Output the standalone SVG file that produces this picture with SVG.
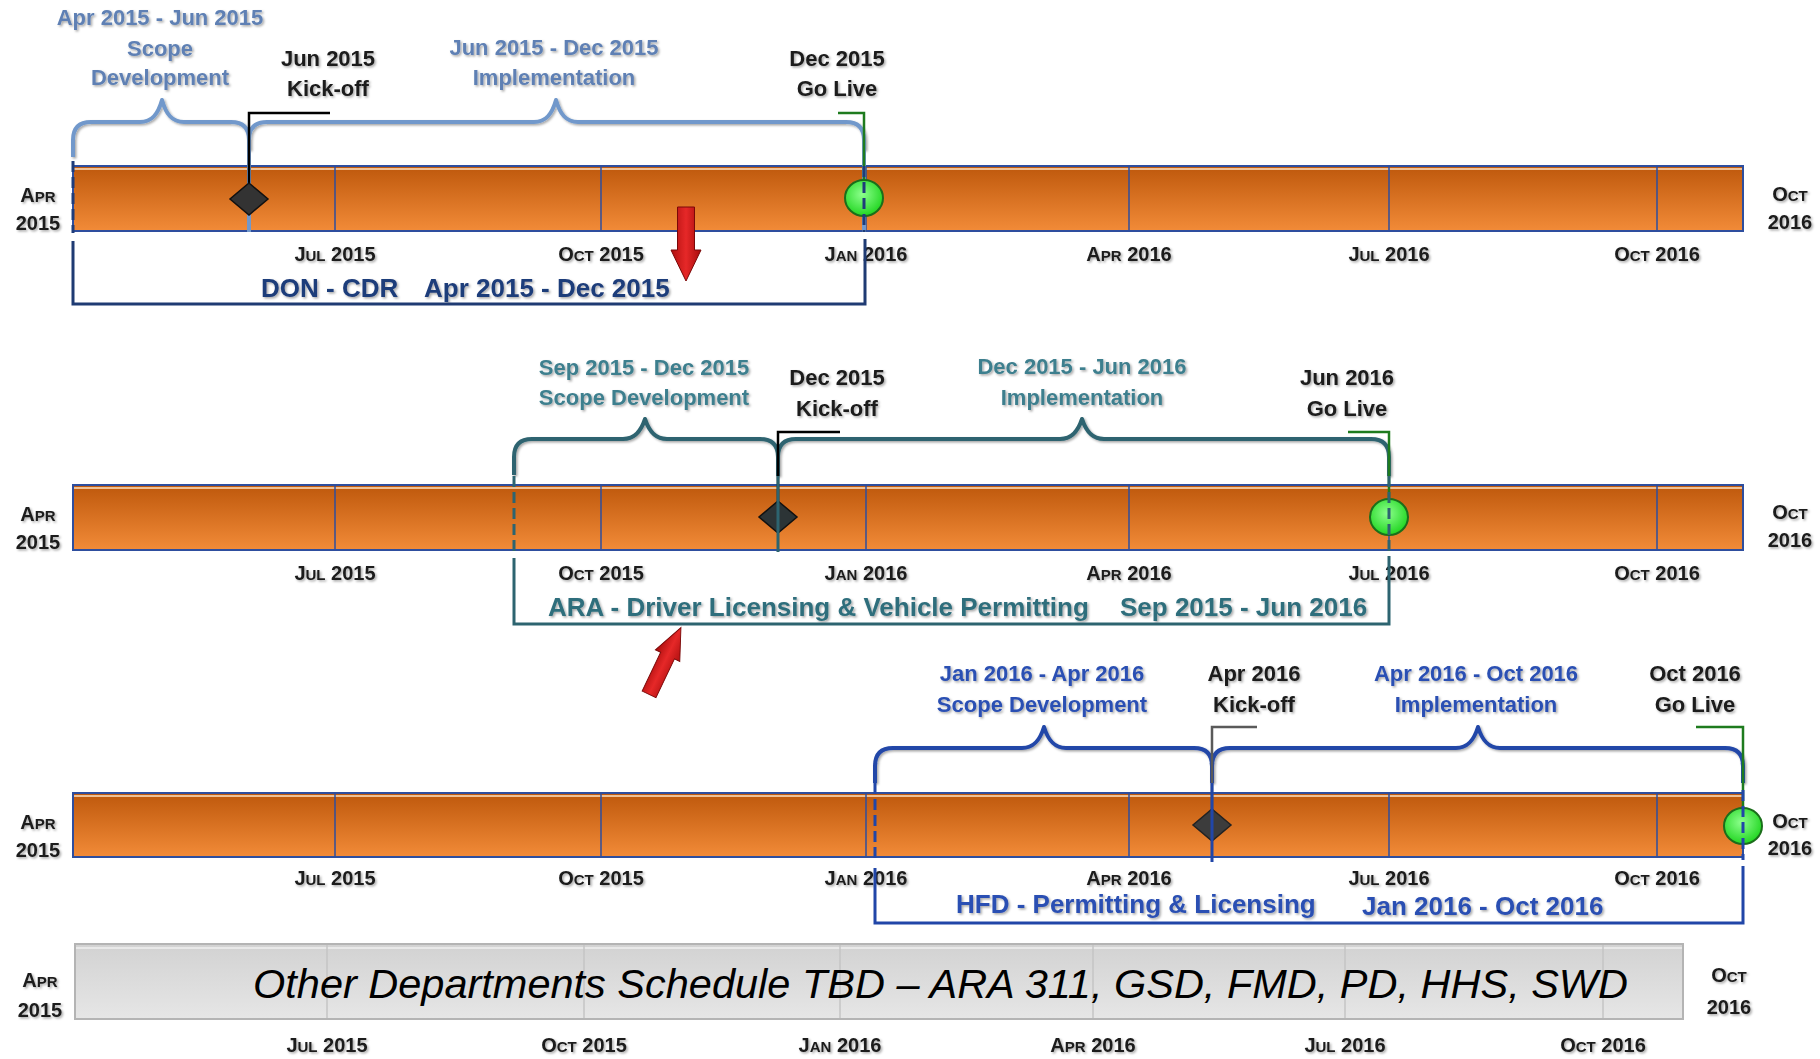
<svg xmlns="http://www.w3.org/2000/svg" width="1820" height="1059" viewBox="0 0 1820 1059">
<defs>
  <linearGradient id="orange" x1="0" y1="0" x2="0" y2="1">
    <stop offset="0" stop-color="#BE580C"/>
    <stop offset="1" stop-color="#F28B38"/>
  </linearGradient>
  <linearGradient id="gray" x1="0" y1="0" x2="0" y2="1">
    <stop offset="0" stop-color="#D2D2D2"/>
    <stop offset="1" stop-color="#E6E6E6"/>
  </linearGradient>
  <radialGradient id="green" cx="0.45" cy="0.4" r="0.6">
    <stop offset="0" stop-color="#8CFF8C"/>
    <stop offset="1" stop-color="#22D622"/>
  </radialGradient>
  <linearGradient id="red" x1="0" y1="0" x2="1" y2="0">
    <stop offset="0" stop-color="#A80C0C"/>
    <stop offset="0.5" stop-color="#E62828"/>
    <stop offset="1" stop-color="#B01010"/>
  </linearGradient>
  <filter id="sh" x="-10%" y="-20%" width="130%" height="160%">
    <feDropShadow dx="1.5" dy="1.5" stdDeviation="0.8" flood-color="#000" flood-opacity="0.35"/>
  </filter>
  <polygon id="diamond" points="0,-16 19,0 0,16 -19,0"/>
  <path id="arrow" d="M0,-37 L15,-6 L8.5,-6 L8.5,37 L-8.5,37 L-8.5,-6 L-15,-6 Z"/>
</defs>
<style>
  text { font-family: "Liberation Sans", Arial, sans-serif; font-weight: bold; }
  .t { font-size: 22px; text-anchor: middle; filter: url(#sh); }
  .blk { fill: #1A1A1A; }
  .ax { font-size: 20px; text-anchor: middle; fill: #1A1A1A; filter: url(#sh); }
  .sc { font-size: 15px; }
  .big { font-size: 26px; filter: url(#sh); }
  .c1 { fill: #5E80B4; }
  .c1b { fill: #1F3C7A; }
  .c2 { fill: #3E7F8E; }
  .c2b { fill: #2F6E7C; }
  .c3 { fill: #2A4FB3; }
  .bar { fill: url(#orange); stroke: #2E4E9E; stroke-width: 2; }
  .hl { stroke: #F8D2AC; stroke-width: 2; opacity: 0.85; }
  .div { stroke: #2E4E9E; stroke-width: 1.5; }
  .gbar { fill: url(#gray); stroke: #B4B4B4; stroke-width: 2; }
  .gdiv { stroke: #C4C4C4; stroke-width: 1.5; }
  .brace { fill: none; stroke-width: 4; stroke-linejoin: round; filter: url(#sh); }
  .ln { fill: none; stroke-width: 2.5; }
  .dash { fill: none; stroke-width: 3; stroke-dasharray: 11 5; }
  .brk { fill: none; stroke-width: 3; }
  .ms { fill: url(#green); stroke: #1B6E1B; stroke-width: 2; }
  .red { fill: url(#red); stroke: #7A0808; stroke-width: 1; }
</style>

<!-- ROW 1 : DON - CDR -->
<g id="row1-bar">
  <rect class="bar" x="73" y="166" width="1670" height="65"/>
  <line class="hl" x1="74" y1="169" x2="1742" y2="169"/>
  <line class="div" x1="335" y1="166" x2="335" y2="231"/>
  <line class="div" x1="601" y1="166" x2="601" y2="231"/>
  <line class="div" x1="866" y1="166" x2="866" y2="231"/>
  <line class="div" x1="1129" y1="166" x2="1129" y2="231"/>
  <line class="div" x1="1389" y1="166" x2="1389" y2="231"/>
  <line class="div" x1="1657" y1="166" x2="1657" y2="231"/>
</g>
<g id="row1-axis">
  <text class="ax" x="38" y="202">A<tspan class="sc">PR</tspan></text>
  <text class="ax" x="38" y="230">2015</text>
  <text class="ax" x="1790" y="201">O<tspan class="sc">CT</tspan></text>
  <text class="ax" x="1790" y="229">2016</text>
  <text class="ax" x="335" y="261">J<tspan class="sc">UL</tspan> 2015</text>
  <text class="ax" x="601" y="261">O<tspan class="sc">CT</tspan> 2015</text>
  <text class="ax" x="866" y="261">J<tspan class="sc">AN</tspan> 2016</text>
  <text class="ax" x="1129" y="261">A<tspan class="sc">PR</tspan> 2016</text>
  <text class="ax" x="1389" y="261">J<tspan class="sc">UL</tspan> 2016</text>
  <text class="ax" x="1657" y="261">O<tspan class="sc">CT</tspan> 2016</text>
</g>
<g id="row1-scope">
  <text class="t c1" x="160" y="25">Apr 2015 - Jun 2015</text>
  <text class="t c1" x="160" y="56">Scope</text>
  <text class="t c1" x="160" y="85">Development</text>
</g>
<g id="row1-kickoff">
  <text class="t blk" x="328" y="66">Jun 2015</text>
  <text class="t blk" x="328" y="96">Kick-off</text>
</g>
<g id="row1-impl">
  <text class="t c1" x="554" y="55">Jun 2015 - Dec 2015</text>
  <text class="t c1" x="554" y="85">Implementation</text>
</g>
<g id="row1-golive">
  <text class="t blk" x="837" y="66">Dec 2015</text>
  <text class="t blk" x="837" y="96">Go Live</text>
</g>
<g id="row1-title">
  <text class="big c1b" x="261" y="297">DON - CDR</text>
  <text class="big c1b" x="424" y="297">Apr 2015 - Dec 2015</text>
</g>

<!-- ROW 2 : ARA -->
<g id="row2-bar">
  <rect class="bar" x="73" y="485" width="1670" height="65"/>
  <line class="hl" x1="74" y1="488" x2="1742" y2="488"/>
  <line class="div" x1="335" y1="485" x2="335" y2="550"/>
  <line class="div" x1="601" y1="485" x2="601" y2="550"/>
  <line class="div" x1="866" y1="485" x2="866" y2="550"/>
  <line class="div" x1="1129" y1="485" x2="1129" y2="550"/>
  <line class="div" x1="1389" y1="485" x2="1389" y2="550"/>
  <line class="div" x1="1657" y1="485" x2="1657" y2="550"/>
</g>
<g id="row2-axis">
  <text class="ax" x="38" y="521">A<tspan class="sc">PR</tspan></text>
  <text class="ax" x="38" y="549">2015</text>
  <text class="ax" x="1790" y="519">O<tspan class="sc">CT</tspan></text>
  <text class="ax" x="1790" y="547">2016</text>
  <text class="ax" x="335" y="580">J<tspan class="sc">UL</tspan> 2015</text>
  <text class="ax" x="601" y="580">O<tspan class="sc">CT</tspan> 2015</text>
  <text class="ax" x="866" y="580">J<tspan class="sc">AN</tspan> 2016</text>
  <text class="ax" x="1129" y="580">A<tspan class="sc">PR</tspan> 2016</text>
  <text class="ax" x="1389" y="580">J<tspan class="sc">UL</tspan> 2016</text>
  <text class="ax" x="1657" y="580">O<tspan class="sc">CT</tspan> 2016</text>
</g>
<g id="row2-scope">
  <text class="t c2" x="644" y="375">Sep 2015 - Dec 2015</text>
  <text class="t c2" x="644" y="405">Scope Development</text>
</g>
<g id="row2-kickoff">
  <text class="t blk" x="837" y="385">Dec 2015</text>
  <text class="t blk" x="837" y="416">Kick-off</text>
</g>
<g id="row2-impl">
  <text class="t c2" x="1082" y="374">Dec 2015 - Jun 2016</text>
  <text class="t c2" x="1082" y="405">Implementation</text>
</g>
<g id="row2-golive">
  <text class="t blk" x="1347" y="385">Jun 2016</text>
  <text class="t blk" x="1347" y="416">Go Live</text>
</g>
<g id="row2-title">
  <text class="big c2b" x="548" y="616">ARA - Driver Licensing &amp; Vehicle Permitting</text>
  <text class="big c2b" x="1120" y="616">Sep 2015 - Jun 2016</text>
</g>

<!-- ROW 3 : HFD -->
<g id="row3-bar">
  <rect class="bar" x="73" y="793" width="1670" height="64"/>
  <line class="hl" x1="74" y1="796" x2="1742" y2="796"/>
  <line class="div" x1="335" y1="793" x2="335" y2="857"/>
  <line class="div" x1="601" y1="793" x2="601" y2="857"/>
  <line class="div" x1="866" y1="793" x2="866" y2="857"/>
  <line class="div" x1="1129" y1="793" x2="1129" y2="857"/>
  <line class="div" x1="1389" y1="793" x2="1389" y2="857"/>
  <line class="div" x1="1657" y1="793" x2="1657" y2="857"/>
</g>
<g id="row3-axis">
  <text class="ax" x="38" y="829">A<tspan class="sc">PR</tspan></text>
  <text class="ax" x="38" y="857">2015</text>
  <text class="ax" x="1790" y="828">O<tspan class="sc">CT</tspan></text>
  <text class="ax" x="1790" y="855">2016</text>
  <text class="ax" x="335" y="885">J<tspan class="sc">UL</tspan> 2015</text>
  <text class="ax" x="601" y="885">O<tspan class="sc">CT</tspan> 2015</text>
  <text class="ax" x="866" y="885">J<tspan class="sc">AN</tspan> 2016</text>
  <text class="ax" x="1129" y="885">A<tspan class="sc">PR</tspan> 2016</text>
  <text class="ax" x="1389" y="885">J<tspan class="sc">UL</tspan> 2016</text>
  <text class="ax" x="1657" y="885">O<tspan class="sc">CT</tspan> 2016</text>
</g>
<g id="row3-scope">
  <text class="t c3" x="1042" y="681">Jan 2016 - Apr 2016</text>
  <text class="t c3" x="1042" y="712">Scope Development</text>
</g>
<g id="row3-kickoff">
  <text class="t blk" x="1254" y="681">Apr 2016</text>
  <text class="t blk" x="1254" y="712">Kick-off</text>
</g>
<g id="row3-impl">
  <text class="t c3" x="1476" y="681">Apr 2016 - Oct 2016</text>
  <text class="t c3" x="1476" y="712">Implementation</text>
</g>
<g id="row3-golive">
  <text class="t blk" x="1695" y="681">Oct 2016</text>
  <text class="t blk" x="1695" y="712">Go Live</text>
</g>
<g id="row3-title">
  <text class="big c3" x="956" y="913">HFD - Permitting &amp; Licensing</text>
  <text class="big c3" x="1362" y="915">Jan 2016 - Oct 2016</text>
</g>

<!-- ROW 4 : Other departments -->
<g id="row4-bar">
  <rect class="gbar" x="75" y="944" width="1608" height="75"/>
  <line x1="76" y1="948" x2="1682" y2="948" stroke="#F0F0F0" stroke-width="1.5"/>
  <line class="gdiv" x1="327" y1="945" x2="327" y2="1018"/>
  <line class="gdiv" x1="584" y1="945" x2="584" y2="1018"/>
  <line class="gdiv" x1="840" y1="945" x2="840" y2="1018"/>
  <line class="gdiv" x1="1093" y1="945" x2="1093" y2="1018"/>
  <line class="gdiv" x1="1345" y1="945" x2="1345" y2="1018"/>
  <line class="gdiv" x1="1603" y1="945" x2="1603" y2="1018"/>
  <text x="253" y="998" style="font-weight:normal;font-style:italic;font-size:41px;fill:#000" textLength="1375" lengthAdjust="spacingAndGlyphs">Other Departments Schedule TBD – ARA 311, GSD, FMD, PD, HHS, SWD</text>
</g>
<g id="row4-axis">
  <text class="ax" x="40" y="987">A<tspan class="sc">PR</tspan></text>
  <text class="ax" x="40" y="1017">2015</text>
  <text class="ax" x="1729" y="982">O<tspan class="sc">CT</tspan></text>
  <text class="ax" x="1729" y="1014">2016</text>
  <text class="ax" x="327" y="1052">J<tspan class="sc">UL</tspan> 2015</text>
  <text class="ax" x="584" y="1052">O<tspan class="sc">CT</tspan> 2015</text>
  <text class="ax" x="840" y="1052">J<tspan class="sc">AN</tspan> 2016</text>
  <text class="ax" x="1093" y="1052">A<tspan class="sc">PR</tspan> 2016</text>
  <text class="ax" x="1345" y="1052">J<tspan class="sc">UL</tspan> 2016</text>
  <text class="ax" x="1603" y="1052">O<tspan class="sc">CT</tspan> 2016</text>
</g>

<!-- connectors: braces, leaders, brackets -->
<g id="connectors">
  <!-- row 1 -->
  <path class="brace" stroke="#7198CB" d="M73,157 L73,140 Q73,122 91,122 L140,122 C152,122 158,114 162,100 C166,114 172,122 184,122 L231,122 Q249,122 249,140 L249,150 M249,150 L249,140 Q249,122 267,122 L534,122 C546,122 552,114 556,100 C560,114 566,122 578,122 L846,122 Q864,122 864,140 L864,150"/>
  <line x1="249" y1="150" x2="249" y2="232" stroke="#7198CB" stroke-width="4"/>
  <line x1="864" y1="150" x2="864" y2="232" stroke="#7198CB" stroke-width="4"/>
  <polyline class="ln" stroke="#000" points="330,113 249,113 249,183"/>
  <polyline class="ln" stroke="#1E7B1E" points="838,113 864,113 864,180"/>
  <line class="dash" stroke="#1F3C7A" x1="73" y1="161" x2="73" y2="233"/>
  <path class="brk" stroke="#1F3B73" d="M73,241 L73,304 L865,304 L865,239"/>
  <!-- row 2 -->
  <path class="brace" stroke="#2D6470" d="M514,475 L514,457 Q514,439 532,439 L623,439 C635,439 641,431 645,419 C649,431 655,439 667,439 L760,439 Q778,439 778,457 L778,476 M778,476 L778,457 Q778,439 796,439 L1060,439 C1072,439 1078,431 1082,419 C1086,431 1092,439 1104,439 L1371,439 Q1389,439 1389,457 L1389,476"/>
  <polyline class="ln" stroke="#000" points="840,432 778,432 778,502"/>
  <polyline class="ln" stroke="#1E7B1E" points="1348,432 1389,432 1389,500"/>
  <line class="dash" stroke="#2D6470" x1="514" y1="476" x2="514" y2="552"/>
  <path class="brk" stroke="#2D6470" d="M514,558 L514,624 L1389,624 L1389,556"/>
  <!-- row 3 -->
  <path class="brace" stroke="#2146A8" d="M875,783 L875,766 Q875,748 893,748 L1022,748 C1034,748 1040,740 1044,727 C1048,740 1054,748 1066,748 L1194,748 Q1212,748 1212,766 L1212,783 M1212,783 L1212,766 Q1212,748 1230,748 L1456,748 C1468,748 1474,740 1478,727 C1482,740 1488,748 1500,748 L1725,748 Q1743,748 1743,766 L1743,783"/>
  <polyline class="ln" stroke="#5A5A5A" points="1257,727 1212,727 1212,810"/>
  <polyline class="ln" stroke="#1E7B1E" points="1696,727 1743,727 1743,808"/>
  <line class="dash" stroke="#2146A8" x1="875" y1="783" x2="875" y2="860"/>
  <path class="brk" stroke="#2146A8" d="M875,868 L875,923 L1743,923 L1743,866"/>
</g>

<!-- milestones -->
<g id="row1-milestones">
  <use href="#diamond" x="249" y="199" fill="#333" stroke="#111" stroke-width="1.5"/>
  <ellipse class="ms" cx="864" cy="198" rx="19" ry="18"/>
  <line class="dash" stroke="#1F3C7A" x1="864" y1="166" x2="864" y2="232" stroke-dasharray="9 5"/>
</g>
<g id="row2-milestones">
  <use href="#diamond" x="778" y="517" fill="#2C3436" stroke="#111" stroke-width="1.5"/>
  <line x1="778" y1="476" x2="778" y2="552" stroke="#2D6470" stroke-width="3"/>
  <ellipse class="ms" cx="1389" cy="517" rx="19" ry="18"/>
  <line class="dash" stroke="#2D6470" x1="1389" y1="476" x2="1389" y2="552" stroke-dasharray="9 5"/>
</g>
<g id="row3-milestones">
  <use href="#diamond" x="1212" y="825" fill="#3C3C3C" stroke="#222" stroke-width="1.5"/>
  <line x1="1212" y1="783" x2="1212" y2="862" stroke="#2146A8" stroke-width="3"/>
  <ellipse class="ms" cx="1743" cy="826" rx="19" ry="18"/>
  <line class="dash" stroke="#2146A8" x1="1743" y1="790" x2="1743" y2="860" stroke-dasharray="9 5"/>
</g>

<!-- red arrows -->
<g id="arrow-down">
  <use href="#arrow" class="red" transform="translate(686,244) rotate(180)"/>
</g>
<g id="arrow-diag">
  <use href="#arrow" class="red" transform="translate(665,661) rotate(25.5) scale(0.9,1)"/>
</g>
</svg>
